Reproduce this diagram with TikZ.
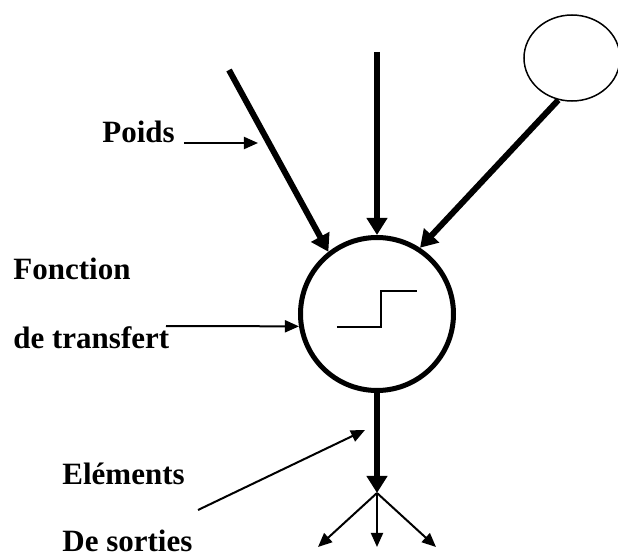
\documentclass[tikz,border=0pt]{standalone}
\usepackage{fontspec}
\setmainfont{Liberation Serif}
\usepackage{tikz}
\usetikzlibrary{arrows.meta, shapes.geometric}

\begin{document}
\begin{tikzpicture}[x=0.5pt, y=-0.5pt,
  lbl/.style={anchor=base west, inner sep=0pt, font=\fontsize{15.5}{18}\selectfont\bfseries},
  syn/.style={line width=3pt, -{Triangle[length=8.5pt, width=10pt]}},
  thin/.style={line width=1pt, -{Triangle[length=7pt, width=6pt]}}]
\useasboundingbox (0,0) rectangle (618,557);

% neurone et entree supplementaire
\node[circle, draw, line width=2.5pt, minimum size=76.5pt, inner sep=0pt] (neur) at (377,314) {};
\node[ellipse, draw, line width=0.75pt, minimum width=48pt, minimum height=43pt, inner sep=0pt] (ent) at (572,58) {};

% fonction de transfert (echelon)
\draw[line width=1pt] (337,327) coordinate (s0) -- (381,327) -- (381,291) -- (417,291) coordinate (s1);

% entrees
\coordinate (e1) at (229,70);
\coordinate (e2) at (377,52);
\draw[syn] (e1) -- (neur.128);
\draw[syn] (e2) -- (neur.north);
\draw[syn] (ent.252) -- (neur.57);

% sortie
\coordinate (fork) at (377,493);
\coordinate (o1) at (318,547);
\coordinate (o2) at (377,547);
\coordinate (o3) at (436,547);
\draw[syn] (neur.south) -- (fork);
\foreach \o in {o1,o2,o3}
  \draw[thin] (fork) -- (\o);

% legendes
\node[lbl] (poids) at (102,142) {Poids};
\node[lbl] (fonc) at (13,279) {Fonction};
\node[lbl] (transf) at (13,349) {de transfert};
\node[lbl] (elem) at (62,485) {Eléments};
\node[lbl] (sort) at (62,552) {De sorties};

\coordinate (p0) at (184,143);
\coordinate (p1) at (258,143);
\draw[thin] (p0) -- (p1);
\coordinate (t0) at (166,326);
\draw[thin] (t0) -- (neur.189);
\coordinate (l0) at (198,510);
\coordinate (l1) at (365,430);
\draw[thin] (l0) -- (l1);
\end{tikzpicture}
\end{document}
